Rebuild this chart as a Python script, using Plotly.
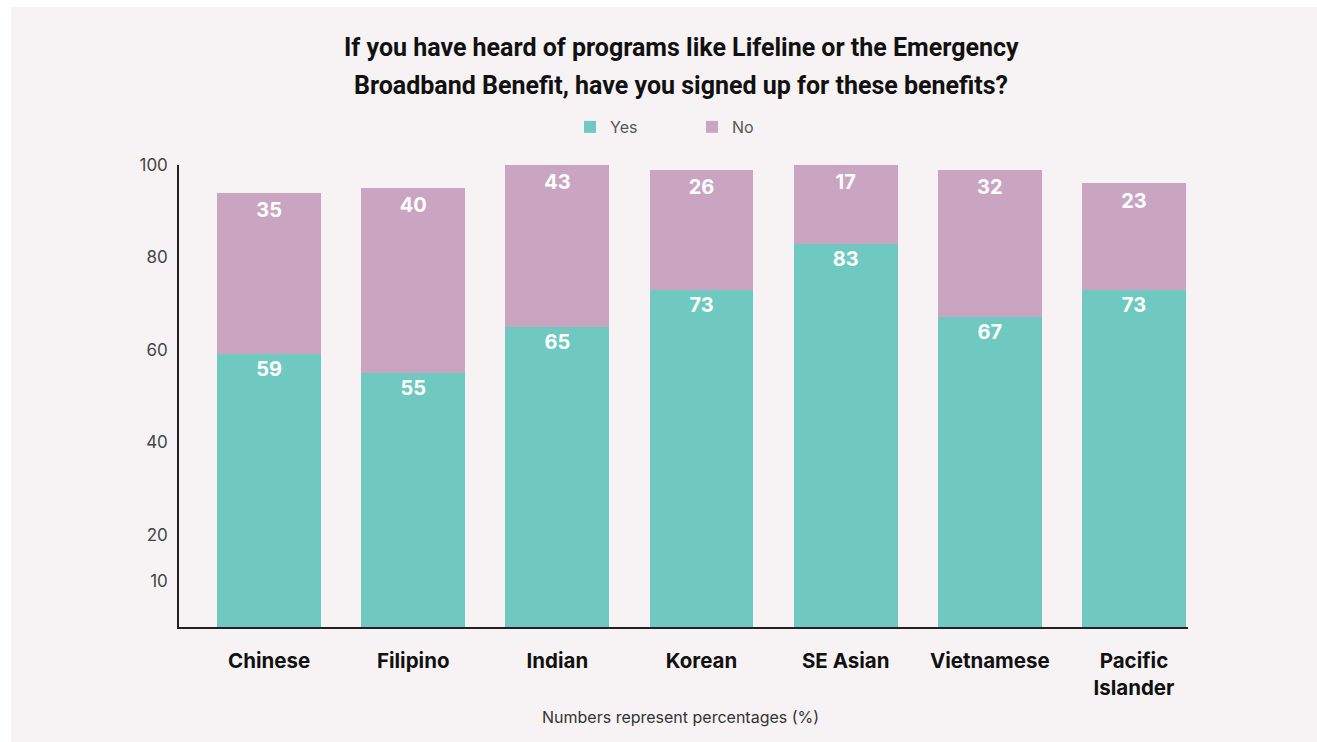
import plotly.graph_objects as go

# Survey responses by community (percent of respondents)
categories = ["Chinese", "Filipino", "Indian", "Korean", "SE Asian", "Vietnamese", "Pacific<br>Islander"]
yes_values = [59, 55, 65, 73, 83, 67, 73]
no_values = [35, 40, 43, 26, 17, 32, 23]

y_tick_values = [10, 20, 40, 60, 80, 100]
y_tick_labels = ["10", "20", "40", "60", "80", "100"]

title_lines = [
    "If you have heard of programs like Lifeline or the Emergency",
    "Broadband Benefit, have you signed up for these benefits?",
]
footnote = "Numbers represent percentages (%)"

TEAL = "#6FC9C1"
MAUVE = "#C9A5C1"
BG = "#F7F3F4"
BODY_FONT = "Inter"
TITLE_FONT = "Roboto"

Y_MAX = 100

fig = go.Figure()

# "Yes" segments carry their own value labels near the top of each segment
fig.add_trace(go.Bar(
    name="Yes",
    x=categories,
    y=yes_values,
    marker=dict(color=TEAL, line=dict(width=0)),
    width=0.72,
    text=yes_values,
    texttemplate="%{text}",
    textposition="inside",
    insidetextanchor="end",
    textangle=0,
    textfont=dict(family=BODY_FONT, size=20, color="white", weight="bold"),
    hoverinfo="skip",
))

# "No" segments stacked on top
fig.add_trace(go.Bar(
    name="No",
    x=categories,
    y=no_values,
    marker=dict(color=MAUVE, line=dict(width=0)),
    width=0.72,
    hoverinfo="skip",
))

# Labels for the "No" segments, placed just under the visible top of each stack;
# an invisible marker sets the gap between the stack top and the label
stack_tops = [min(y + n, Y_MAX) for y, n in zip(yes_values, no_values)]
fig.add_trace(go.Scatter(
    x=categories,
    y=stack_tops,
    mode="markers+text",
    marker=dict(size=13, opacity=0),
    text=[str(v) for v in no_values],
    textposition="bottom center",
    textfont=dict(family=BODY_FONT, size=20, color="white", weight="bold"),
    showlegend=False,
    hoverinfo="skip",
    cliponaxis=False,
))

W, H = 1317, 742
ML, MR, MT, MB = 179, 129, 165, 115
pw = W - ML - MR
ph = H - MT - MB


def px_x(x):
    return (x - ML) / pw


def px_y(y):
    return (H - MB - y) / ph


annotations = [
    dict(
        text=line,
        xref="paper", yref="paper",
        x=px_x(681), y=px_y(yc),
        xanchor="center", yanchor="middle",
        showarrow=False,
        font=dict(family=TITLE_FONT, size=25, color="#111111", weight="bold"),
    )
    for line, yc in zip(title_lines, [48, 85])
]
annotations.append(dict(
    text=footnote,
    xref="paper", yref="paper",
    x=px_x(680), y=px_y(717),
    xanchor="center", yanchor="middle",
    showarrow=False,
    font=dict(family=BODY_FONT, size=16, color="#333333"),
))

fig.update_layout(
    width=W,
    height=H,
    barmode="stack",
    margin=dict(l=ML, r=MR, t=MT, b=MB, pad=0),
    paper_bgcolor="white",
    plot_bgcolor="rgba(0,0,0,0)",
    legend=dict(
        orientation="h",
        x=px_x(692),
        xanchor="center",
        y=px_y(127),
        yanchor="middle",
        entrywidth=77,
        font=dict(family=BODY_FONT, size=16, color="#555555"),
        bgcolor="rgba(0,0,0,0)",
        traceorder="normal",
    ),
    xaxis=dict(
        range=[-0.625, 6.375],
        showline=True,
        linecolor="#222222",
        linewidth=1.5,
        showgrid=False,
        zeroline=False,
        ticks="",
        ticklabelstandoff=15,
        tickfont=dict(family=BODY_FONT, size=20.5, color="#111111", weight="bold"),
        fixedrange=True,
    ),
    yaxis=dict(
        range=[0, Y_MAX],
        tickvals=y_tick_values,
        ticktext=y_tick_labels,
        showline=True,
        linecolor="#222222",
        linewidth=1.5,
        showgrid=False,
        zeroline=False,
        ticks="",
        ticklabelstandoff=6,
        tickfont=dict(family=BODY_FONT, size=17, color="#444444"),
        fixedrange=True,
    ),
    shapes=[
        dict(
            type="rect",
            xref="paper", yref="paper",
            x0=px_x(11), x1=px_x(W),
            y0=px_y(H), y1=px_y(7),
            fillcolor=BG, line=dict(width=0),
            layer="below",
        )
    ],
    annotations=annotations,
    showlegend=True,
)

fig.write_html("out.html", config={"displayModeBar": False})
